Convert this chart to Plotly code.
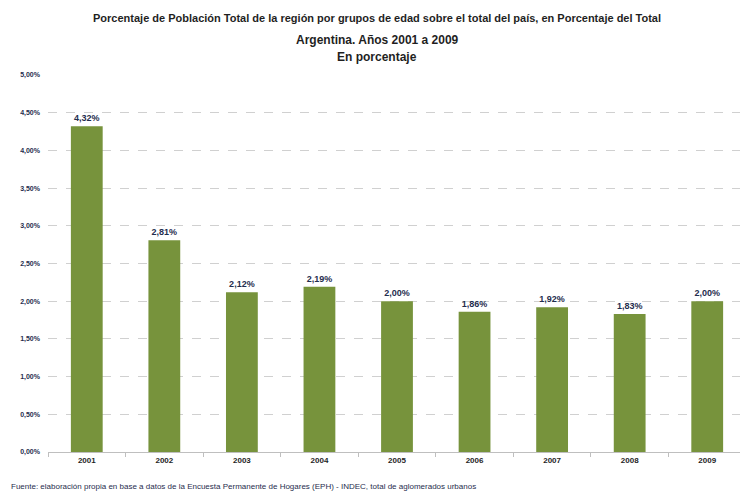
import plotly.graph_objects as go

years = ["2001", "2002", "2003", "2004", "2005", "2006", "2007", "2008", "2009"]
values = [4.32, 2.81, 2.12, 2.19, 2.00, 1.86, 1.92, 1.83, 2.00]
value_labels = ["4,32%", "2,81%", "2,12%", "2,19%", "2,00%", "1,86%", "1,92%", "1,83%", "2,00%"]
tick_vals = [0, 0.5, 1, 1.5, 2, 2.5, 3, 3.5, 4, 4.5, 5]
tick_text = ["0,00%", "0,50%", "1,00%", "1,50%", "2,00%", "2,50%", "3,00%", "3,50%", "4,00%", "4,50%", "5,00%"]

title_lines = [
    "<b>Porcentaje de Población Total de la región por grupos de edad sobre el total del país, en Porcentaje del Total</b>",
    "<b>Argentina. Años 2001 a 2009</b>",
    "<b>En porcentaje</b>",
]
source_text = "Fuente: elaboración propia en base a datos de la Encuesta Permanente de Hogares (EPH) - INDEC, total de aglomerados urbanos"

# page offset (default body margin of the html page)
OFF = 8
L, T, PW, PH = 40, 67, 698, 377


def px(x):
    return (x - OFF - L) / PW


def py(y):
    return 1 - (y - OFF - T) / PH


fig = go.Figure()
fig.add_trace(go.Bar(
    x=years, y=values,
    marker=dict(color="#77933C", line=dict(width=0)),
    text=["<b>" + t + "</b>" for t in value_labels], textposition="outside",
    textfont=dict(family="Arial, Liberation Sans", size=9, color="#1F2D4E"),
    cliponaxis=False,
    width=0.41,
))

fig.update_layout(
    width=748, height=491,
    margin=dict(l=L, r=748 - L - PW, t=T, b=491 - T - PH),
    paper_bgcolor="white", plot_bgcolor="white",
    showlegend=False,
    font=dict(family="Arial, Liberation Sans", color="#000000"),
    xaxis=dict(
        type="category", showgrid=False,
        showline=True, linecolor="#BFBFBF", linewidth=1,
        ticks="outside", tickson="boundaries", ticklen=4, tickcolor="#BFBFBF",
        tickfont=dict(size=8, color="#1F1F1F", weight="bold"),
    ),
    yaxis=dict(
        range=[0, 5], tickvals=tick_vals, ticktext=tick_text,
        showgrid=True, gridcolor="#D0D0D0", griddash="dash", gridwidth=1,
        zeroline=False, showline=False,
        tickfont=dict(size=7, color="#1F2D4E", weight="bold"),
        ticks="", ticklabelstandoff=7,
    ),
)

title_y = [18, 40, 57]
title_size = [11, 12, 12]
for line, yp, sz in zip(title_lines, title_y, title_size):
    fig.add_annotation(
        text=line, xref="paper", yref="paper", x=px(377),
        y=py(yp), showarrow=False, xanchor="center", yanchor="middle",
        font=dict(size=sz, color="#1F1F1F"),
    )

fig.add_annotation(
    text=source_text, xref="paper", yref="paper", x=px(9), y=py(486),
    showarrow=False, xanchor="left", yanchor="middle",
    font=dict(size=8, color="#1F2D4E"),
)

fig.write_html("out.html")
